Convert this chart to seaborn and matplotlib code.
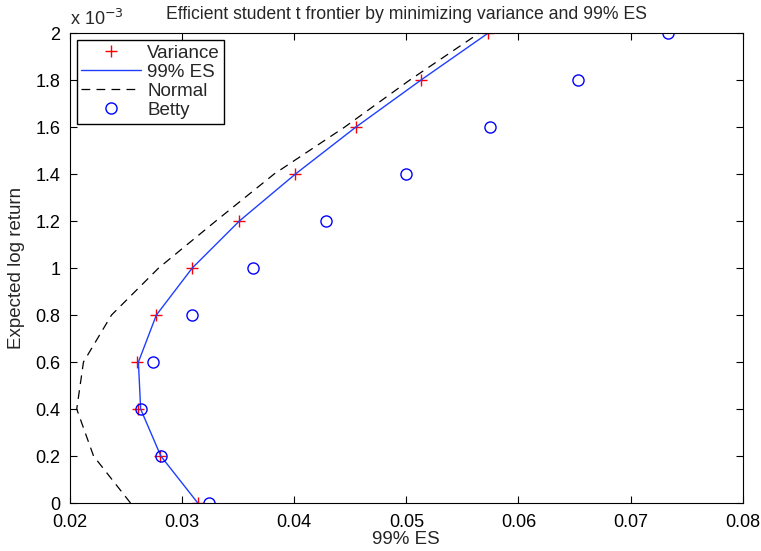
import numpy as np
import pandas as pd
import matplotlib
matplotlib.use("Agg")
import matplotlib.pyplot as plt
from matplotlib.ticker import FuncFormatter, MultipleLocator
import seaborn as sns

# ---- data ----
ret_levels = [0.0, 0.0002, 0.0004, 0.0006, 0.0008, 0.0010, 0.0012, 0.0014, 0.0016, 0.0018, 0.0020]
var_es = [0.0314, 0.0280, 0.0261, 0.0260, 0.0277, 0.0309, 0.0351, 0.0401, 0.0455, 0.0513, 0.0573]
es_es = [0.0314, 0.0281, 0.0263, 0.0261, 0.0277, 0.0309, 0.0351, 0.0401, 0.0455, 0.0513, 0.0573]
normal_es = [0.0254, 0.0221, 0.0206, 0.0212, 0.0237, 0.0279, 0.0330, 0.0382, 0.0445, 0.0503, 0.0565]
betty_es = [0.0324, 0.0281, 0.0263, 0.0274, 0.0309, 0.0363, 0.0428, 0.0500, 0.0575, 0.0653, 0.0733]

title = "Efficient student t frontier by minimizing variance and 99% ES"
xlabel = "99% ES"
ylabel = "Expected log return"
xticks = [0.02, 0.03, 0.04, 0.05, 0.06, 0.07, 0.08]

df = pd.DataFrame({"ret": ret_levels, "var": var_es, "es": es_es,
                   "normal": normal_es, "betty": betty_es})

sns.set_style("ticks")
plt.rcParams["font.family"] = ["Liberation Sans", "DejaVu Sans"]

fig = plt.figure(figsize=(7.61, 5.51), dpi=100)
ax = fig.add_axes([0.092, 0.087, 0.884, 0.853])

sns.lineplot(data=df, x="var", y="ret", sort=False, estimator=None, ax=ax,
             linestyle="none", marker="+", markersize=9, markeredgewidth=1.0,
             markeredgecolor="#ff0000", color="#ff0000", label="Variance")
sns.lineplot(data=df, x="es", y="ret", sort=False, estimator=None, ax=ax,
             color="#1f3fff", linewidth=1.0, label="99% ES")
sns.lineplot(data=df, x="normal", y="ret", sort=False, estimator=None, ax=ax,
             color="black", linewidth=0.9, linestyle=(0, (7, 5)), label="Normal")
sns.lineplot(data=df, x="betty", y="ret", sort=False, estimator=None, ax=ax,
             linestyle="none", marker="o", markersize=8, markerfacecolor="none",
             markeredgecolor="#0000ff", markeredgewidth=1.0, color="#0000ff", label="Betty")

ax.set_xlim(0.02, 0.08)
ax.set_ylim(0, 0.002)
ax.set_xticks(xticks)
ax.set_xticklabels([f"{t:g}" for t in xticks])
ax.yaxis.set_major_locator(MultipleLocator(0.0002))
ax.yaxis.set_major_formatter(FuncFormatter(lambda v, p: f"{v*1000:g}"))
ax.tick_params(direction="in", length=5, width=0.8, labelsize=13,
               top=True, right=True, colors="black")
ax.tick_params(axis="y", pad=7)
ax.tick_params(axis="x", pad=8)
for s in ax.spines.values():
    s.set_color("black")
    s.set_linewidth(0.8)

ax.set_title(title, fontsize=12.7, pad=10)
ax.set_xlabel(xlabel, fontsize=13.5, labelpad=0)
ax.set_ylabel(ylabel, fontsize=13.5, labelpad=7)
ax.text(0.0, 1.008, r"x 10$^{-3}$", transform=ax.transAxes, ha="left", va="bottom",
        fontsize=13)

leg = ax.legend(loc="upper left", bbox_to_anchor=(0.01, 0.985), fontsize=13.5,
                frameon=True, fancybox=False, framealpha=1, edgecolor="black",
                borderpad=0.25, labelspacing=0.1, handlelength=3.2, handletextpad=0.3,
                borderaxespad=0)
leg.get_frame().set_linewidth(1.0)

fig.savefig("out.png", dpi=100)
